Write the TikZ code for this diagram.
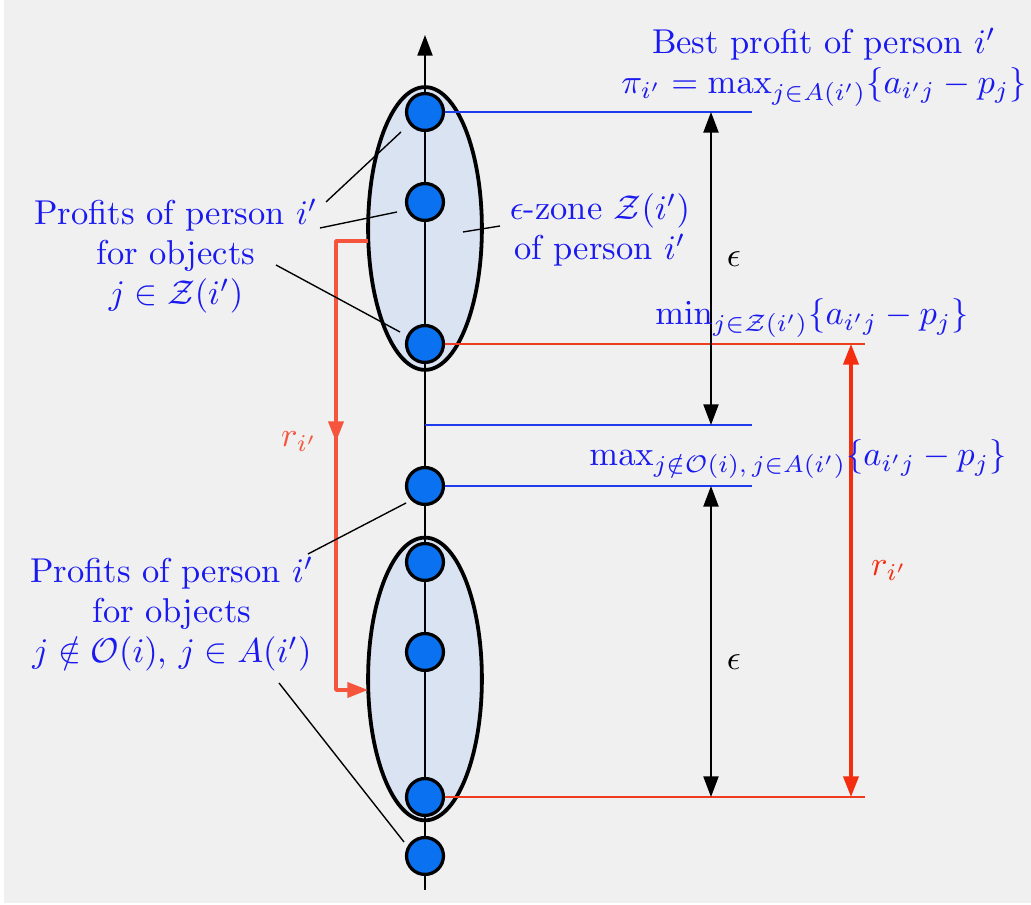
\documentclass[tikz,border=0pt]{standalone}
\usepackage{amsmath,amssymb}
\usetikzlibrary{arrows.meta,shapes.geometric}
\definecolor{bggray}{RGB}{240,240,240}
\definecolor{zonefill}{RGB}{218,227,242}
\definecolor{dotblue}{RGB}{10,114,240}
\definecolor{txtblue}{RGB}{25,25,240}
\definecolor{lineblue}{RGB}{30,60,235}
\definecolor{linered}{RGB}{240,60,30}
\definecolor{rred}{RGB}{245,45,15}
\definecolor{lred}{RGB}{245,85,60}
\tikzset{
  dot/.style={circle, draw=black, line width=0.95pt, fill=dotblue, inner sep=0pt, minimum size=10.7pt},
  zone/.style={ellipse, draw=black, line width=1.1pt, fill=zonefill, inner sep=0pt, minimum width=33pt, minimum height=82pt},
  lbl/.style={text=txtblue, align=center},
  pointer/.style={black, line width=0.4pt},
  bline/.style={lineblue, line width=0.45pt},
  rline/.style={linered, line width=0.45pt},
  epsarrow/.style={black, line width=0.5pt, <->},
  rarrow/.style={rred, line width=1pt, <->},
  larrow/.style={lred, line width=1pt, ->}
}
\begin{document}
\begin{tikzpicture}[x=0.29pt, y=-0.29pt, font=\fontsize{10}{11.6}\selectfont, line join=round, >={Triangle[length=6pt,width=4.4pt]}]
				% background
				\fill[white] (0,0) rectangle (1031,905);
				\fill[bggray] (4,0) rectangle (1031,903);
				\useasboundingbox (0,0) rectangle (1031,905);
				% zones
				\node[zone] (zoneA) at (425,228.5) {};
				\node[zone] (zoneB) at (425,679) {};
				% axis
				\coordinate (axB) at (425,890);
				\coordinate (axT) at (425,35);
				\draw[line width=0.45pt, ->] (axB) -- (axT);
				% profits
				\foreach \n/\y in {1/112,2/202,3/344,4/486,5/562,6/652,7/797,8/856}
				\node[dot] (c\n) at (425,\y) {};
				% levels
				\coordinate (hR) at (752,0);
				\coordinate (hRR) at (865,0);
				\coordinate (cut) at (425,425);
				\draw[bline] (c1.east) -- (c1.east -| hR);
				\draw[rline] (c3.east) -- (c3.east -| hRR);
				\draw[bline] (cut) -- (cut -| hR);
				\draw[bline] (c4.east) -- (c4.east -| hR);
				\draw[rline] (c7.east) -- (c7.east -| hRR);
				% epsilon and r arrows
				\coordinate (epsX) at (711,0);
				\coordinate (rX) at (851,0);
				\draw[epsarrow] (c1.east -| epsX) -- (cut -| epsX) node[pos=0.47, right=1pt] {$\epsilon$};
				\draw[epsarrow] (c4.east -| epsX) -- (c7.east -| epsX) node[pos=0.565, right=1pt] {$\epsilon$};
				\draw[rarrow] (c3.east -| rX) -- (c7.east -| rX) node[midway, right=2pt] {$r_{i'}$};
				% moving the zone
				\coordinate (rOut) at (368,241);
				\coordinate (rUp) at (336,410);
				\coordinate (rMid) at (336,442);
				\coordinate (rIn) at (368,690);
				\draw[larrow] (rOut) -| (rMid) |- (rIn);
				\draw[larrow] (rUp) -- (rMid) node[left=1.5pt, text=lred] {$r_{i'}$};
				% texts
				\node[lbl] (best) at (824,67) {Best profit of person $i'$\\ $\pi_{i'}=\max_{j\in A(i')}\{a_{i'j}-p_j\}$};
				\node[lbl, anchor=base] (minT) at (812,325) {$\min_{j\in\mathcal{Z}(i')}\{a_{i'j}-p_j\}$};
				\node[lbl, anchor=base] (maxT) at (798,466) {$\max_{j\notin\mathcal{O}(i),\,j\in A(i')}\{a_{i'j}-p_j\}$};
				\node[lbl] (zoneT) at (600,230) {$\epsilon$-zone $\mathcal{Z}(i')$\\ of person $i'$};
				\node[lbl] (left1) at (176,256) {Profits of person $i'$\\ for objects\\ $j\in\mathcal{Z}(i')$};
				\node[lbl] (left2) at (172,614) {Profits of person $i'$\\ for objects\\ $j\notin\mathcal{O}(i)$, $j\in A(i')$};
				% pointers
				\coordinate (p1a) at (326,202); \coordinate (p1b) at (401,132);
				\coordinate (p2a) at (320,228); \coordinate (p2b) at (397,212);
				\coordinate (p3a) at (276,265); \coordinate (p3b) at (400,332);
				\coordinate (p4a) at (463,232); \coordinate (p4b) at (500,226);
				\coordinate (p5a) at (308,554); \coordinate (p5b) at (406,503);
				\coordinate (p6a) at (279,683); \coordinate (p6b) at (404,842);
				\draw[pointer] (p1a) -- (p1b);
				\draw[pointer] (p2a) -- (p2b);
				\draw[pointer] (p3a) -- (p3b);
				\draw[pointer] (p4a) -- (p4b);
				\draw[pointer] (p5a) -- (p5b);
				\draw[pointer] (p6a) -- (p6b);
		\end{tikzpicture}
\end{document}
